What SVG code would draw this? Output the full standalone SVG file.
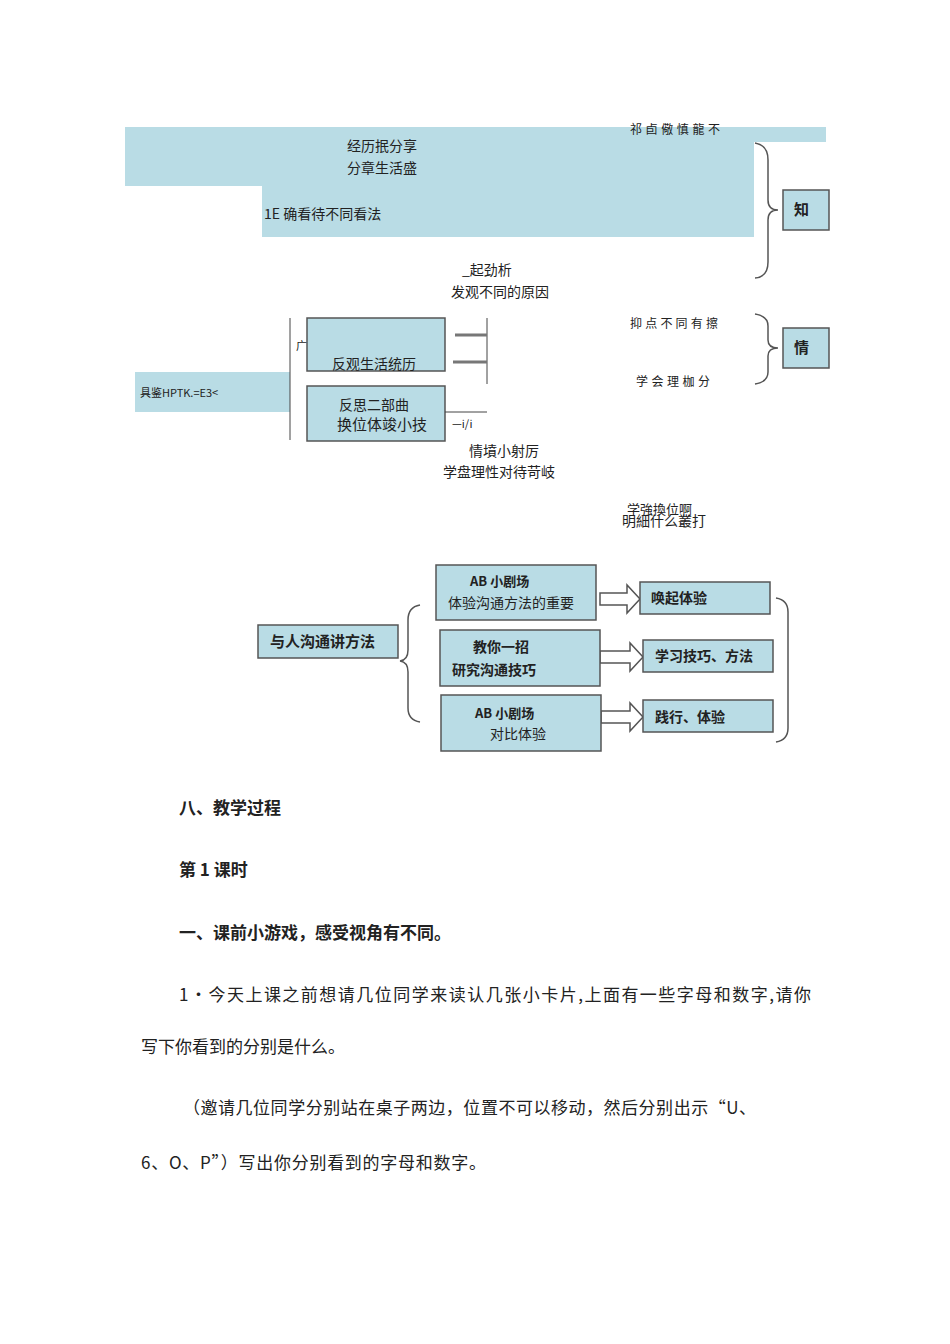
<svg xmlns="http://www.w3.org/2000/svg" width="950" height="1344" viewBox="0 0 950 1344">
<style>
text{font-family:"Noto Sans CJK SC","Noto Sans",sans-serif;fill:#222}
.b{fill:#b9dce5}
.bx{fill:#b9dce5;stroke:#555;stroke-width:1.5}
.ln{stroke:#444;stroke-width:1;fill:none}
.br{stroke:#555;stroke-width:1.5;fill:none}
.bold{font-weight:bold}
.ar{fill:#fff;stroke:#555;stroke-width:1.5}
.body{font-size:17px}
</style>
<rect width="950" height="1344" fill="#fff"/>
<g id="top">
<rect class="b" x="125" y="127" width="701" height="15"/>
<rect class="b" x="125" y="142" width="629" height="44"/>
<rect class="b" x="262" y="186" width="492" height="51"/>
<text x="630" y="134" font-size="12" textLength="90">祁卣儆慎龍不</text>
<text x="347" y="151" font-size="14">经历抿分享</text>
<text x="347" y="173" font-size="14">分章生活盛</text>
<text x="264" y="219" font-size="14">1E 确看待不同看法</text>
<text x="462" y="275" font-size="14">_起劲析</text>
<text x="451" y="297" font-size="14">发观不同的原因</text>
</g>
<g id="zhi"><rect class="bx" x="783" y="190" width="46" height="40"/><text x="794" y="215" font-size="15" class="bold">知</text></g>
<g id="qing"><rect class="bx" x="783" y="328" width="46" height="40"/><text x="794" y="353" font-size="15" class="bold">情</text></g>
<g id="mid">
<rect class="b" x="135" y="372" width="155" height="40"/>
<text x="140" y="397" font-size="11">具鉴HPTK.=E3&lt;</text>
<rect class="bx" x="307" y="318" width="138" height="53" stroke-width="1"/>
<text x="332" y="369" font-size="14">反观生活统历</text>
<text x="296" y="350" font-size="11">广</text>
<rect class="bx" x="307" y="386" width="138" height="55" stroke-width="1"/>
<text x="339" y="410" font-size="14">反思二部曲</text>
<text x="337" y="430" font-size="15">换位体竣小技</text>
<text x="452" y="428" font-size="11" fill="#666">—i/i</text>
<text x="469" y="456" font-size="14">情墳小射厉</text>
<text x="443" y="477" font-size="14">学盘理性对待苛岐</text>
<text x="630" y="328" font-size="12" textLength="88">抑点不同有擦</text>
<text x="636" y="386" font-size="12" textLength="74">学会理枷分</text>
<text x="627" y="514" font-size="13">学強換位啊</text>
<text x="622" y="526" font-size="14">明細什么叢打</text>
</g>
<g id="connectors">
<path class="br" d="M755,143 Q768,145 768,160 L768,200 Q768,210 778,210 Q768,210 768,220 L768,262 Q768,277 755,278"/>
<path class="br" d="M755,314 Q768,316 768,326 L768,340 Q768,348 778,348 Q768,348 768,356 L768,372 Q768,382 755,384"/>
<path class="ln" d="M290,318V440M487,318V384M445,412H487"/>
<path d="M455,335H487M453,362H487" stroke="#777" stroke-width="3"/>
<path class="br" d="M420,605 Q408,607 408,620 L408,650 Q408,660 400,661 Q408,662 408,672 L408,708 Q408,720 420,722"/>
<path class="br" d="M776,598 Q788,600 788,612 L788,728 Q788,740 776,742"/>
<path class="ar" d="M600,593H627V585L640,599L627,613V605H600Z"/>
<path class="ar" d="M600,651H630V643L643,657L630,671V663H600Z"/>
<path class="ar" d="M601,711H630V703L643,717L630,731V723H601Z"/>
</g>
<g id="bottom" class="bold">
<g id="n1"><rect class="bx" x="258" y="625" width="140" height="33"/><text x="270" y="647" font-size="15">与人沟通讲方法</text></g>
<g id="n2"><rect class="bx" x="436" y="565" width="160" height="55"/><text x="470" y="586" font-size="13">AB 小剧场</text><text x="448" y="608" font-size="14" font-weight="normal">体验沟通方法的重要</text></g>
<g id="n3"><rect class="bx" x="440" y="630" width="160" height="56"/><text x="473" y="652" font-size="14">教你一招</text><text x="452" y="675" font-size="14">研究沟通技巧</text></g>
<g id="n4"><rect class="bx" x="441" y="695" width="160" height="56"/><text x="475" y="718" font-size="13">AB 小剧场</text><text x="490" y="739" font-size="14" font-weight="normal">对比体验</text></g>
<g id="n5"><rect class="bx" x="640" y="582" width="130" height="32"/><text x="651" y="603" font-size="14">唤起体验</text></g>
<g id="n6"><rect class="bx" x="643" y="640" width="130" height="32"/><text x="655" y="661" font-size="14">学习技巧、方法</text></g>
<g id="n7"><rect class="bx" x="643" y="700" width="130" height="32"/><text x="655" y="722" font-size="14">践行、体验</text></g>
</g>
<g id="body">
<text x="179" y="814" class="body bold">八、教学过程</text>
<text x="179" y="876" class="body bold">第 1 课时</text>
<text x="179" y="939" class="body bold">一、课前小游戏，感受视角有不同。</text>
<text x="179" y="1001" class="body" textLength="632">1•今天上课之前想请几位同学来读认几张小卡片,上面有一些字母和数字,请你</text>
<text x="141" y="1053" class="body">写下你看到的分别是什么。</text>
<text x="183" y="1114" class="body" textLength="573">（邀请几位同学分别站在桌子两边，位置不可以移动，然后分别出示“U、</text>
<text x="141" y="1169" class="body" textLength="345">6、O、P”）写出你分别看到的字母和数字。</text>
</g>
</svg>
